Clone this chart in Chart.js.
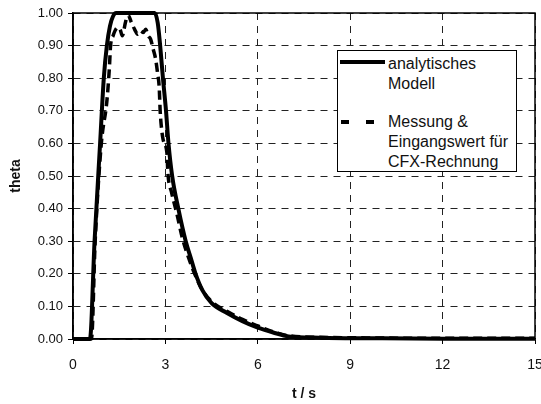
<!DOCTYPE html>
<html>
<head>
<meta charset="utf-8">
<script src="https://cdn.jsdelivr.net/npm/chart.js@4.4.1/dist/chart.umd.min.js"></script>
<style>
  html, body { margin: 0; padding: 0; background: #fff; }
  #wrap { position: relative; width: 541px; height: 404px; }
  #legend {
    position: absolute; left: 337px; top: 50px; width: 180px; height: 122px;
    border: 1px solid #000; background: #fff; box-sizing: border-box;
    font-family: "Liberation Sans", Arial, sans-serif; font-size: 16px; color: #111;
  }
  .lbl { position: absolute; left: 50px; line-height: 20px; white-space: nowrap; }
  svg { position: absolute; left: 0; top: 0; }
</style>
</head>
<body>
<div id="wrap">
  <canvas id="c" width="541" height="404"></canvas>
  <div id="legend">
    <svg width="178" height="120">
      <line id="s1" x1="2" y1="11" x2="47" y2="11" stroke="#000" stroke-width="4"/>
      <line id="s2" x1="3" y1="71" x2="36" y2="71" stroke="#000" stroke-width="4" stroke-dasharray="8 17"/>
    </svg>
    <div class="lbl" id="l1" style="top:3px;"></div>
    <div class="lbl" id="l2" style="top:61px;"></div>
  </div>
</div>
<script>
// ---- data ----
const seriesNames = ["analytisches\nModell", "Messung &\nEingangswert für\nCFX-Rechnung"];
const xTitle = "t / s";
const yTitle = "theta";

const tAnalytic = [0, 0.55, 0.7, 0.88, 1.0, 1.1, 1.2, 1.3, 1.4, 2.65, 2.75, 2.83, 2.92, 3.02, 3.1, 3.22, 3.42, 3.66, 3.82, 3.98, 4.2, 4.5, 5.0, 5.5, 6.0, 6.5, 7.0, 8.0, 10, 12, 15];
const thetaAnalytic = [0, 0, 0.3, 0.6, 0.8, 0.9, 0.96, 0.99, 1.0, 1.0, 0.97, 0.9, 0.8, 0.7, 0.6, 0.5, 0.4, 0.3, 0.25, 0.2, 0.15, 0.11, 0.08, 0.055, 0.035, 0.02, 0.008, 0.004, 0.002, 0.001, 0.001];

const tMeasured = [0, 0.6, 0.72, 0.92, 1.1, 1.18, 1.22, 1.3, 1.45, 1.53, 1.6, 1.7, 1.78, 1.9, 2.0, 2.1, 2.2, 2.28, 2.36, 2.44, 2.52, 2.6, 2.68, 2.74, 2.8, 2.83, 2.86, 2.93, 3.05, 3.08, 3.2, 3.37, 3.55, 3.75, 3.95, 4.2, 4.5, 5.0, 5.5, 6.0, 6.5, 7.0, 8.0, 9, 10, 12, 15];
const thetaMeasured = [0, 0, 0.3, 0.6, 0.73, 0.83, 0.9, 0.93, 0.955, 0.95, 0.93, 0.97, 0.995, 0.97, 0.95, 0.935, 0.945, 0.94, 0.95, 0.93, 0.92, 0.89, 0.86, 0.82, 0.77, 0.70, 0.66, 0.61, 0.57, 0.51, 0.45, 0.385, 0.31, 0.25, 0.2, 0.15, 0.115, 0.085, 0.06, 0.04, 0.022, 0.01, 0.005, 0.004, 0.003, 0.002, 0.002];

const xTicks = [0, 3, 6, 9, 12, 15];
const yTicks = [0, 0.1, 0.2, 0.3, 0.4, 0.5, 0.6, 0.7, 0.8, 0.9, 1.0];

// legend text
document.getElementById('l1').innerHTML = seriesNames[0].split('\n').join('<br>');
document.getElementById('l2').innerHTML = seriesNames[1].split('\n').join('<br>');

const toPts = (xs, ys) => xs.map((x, i) => ({x: x, y: ys[i]}));
const FONT = "'Liberation Sans', Arial, sans-serif";

const frame = {
  id: 'frame',
  afterDatasetsDraw(chart) {
    const a = chart.chartArea, ctx = chart.ctx;
    ctx.save();
    ctx.strokeStyle = '#000';
    ctx.lineWidth = 1.5;
    ctx.setLineDash([]);
    ctx.strokeRect(a.left, a.top, a.right - a.left, a.bottom - a.top);
    ctx.restore();
  }
};

new Chart(document.getElementById('c'), {
  type: 'scatter',
  data: {
    datasets: [
      {
        label: seriesNames[1],
        data: toPts(tMeasured, thetaMeasured),
        showLine: true, pointRadius: 0,
        borderColor: '#000', borderWidth: 3.5, borderDash: [9, 5],
        cubicInterpolationMode: 'monotone', clip: false
      },
      {
        label: seriesNames[0],
        data: toPts(tAnalytic, thetaAnalytic),
        showLine: true, pointRadius: 0,
        borderColor: '#000', borderWidth: 4,
        cubicInterpolationMode: 'monotone', clip: false
      }
    ]
  },
  options: {
    responsive: false,
    animation: false,
    layout: { padding: { top: 13, right: 6, left: 0, bottom: 0 } },
    plugins: { legend: { display: false }, tooltip: { enabled: false } },
    scales: {
      x: {
        type: 'linear', min: 0, max: 15,
        afterBuildTicks: s => { s.ticks = xTicks.map(v => ({value: v})); },
        afterFit: s => { s.height = 65; s.paddingLeft = 0; s.paddingRight = 0; },
        ticks: { color: '#111', font: { family: FONT, size: 14 }, padding: 13, maxRotation: 0 },
        grid: { color: '#222', lineWidth: 1, tickLength: 5, tickColor: '#000', tickWidth: 1 },
        border: { color: '#000', width: 1.5, dash: [7, 6] },
        title: { display: true, text: xTitle, color: '#111', font: { family: FONT, size: 14, weight: 'bold' }, padding: { top: 4, bottom: 1 } }
      },
      y: {
        type: 'linear', min: 0, max: 1,
        afterBuildTicks: s => { s.ticks = yTicks.map(v => ({value: v})); },
        afterFit: s => { s.width = 73; },
        ticks: { color: '#111', font: { family: FONT, size: 13 }, padding: 5, callback: v => Number(v).toFixed(2) },
        grid: { color: '#222', lineWidth: 1, tickLength: 5, tickColor: '#000', tickWidth: 1 },
        border: { color: '#000', width: 1.5, dash: [7, 6] },
        title: { display: true, text: yTitle, color: '#111', font: { family: FONT, size: 14, weight: 'bold' }, padding: { top: 8, bottom: 4 } }
      }
    }
  },
  plugins: [frame]
});
</script>
</body>
</html>
